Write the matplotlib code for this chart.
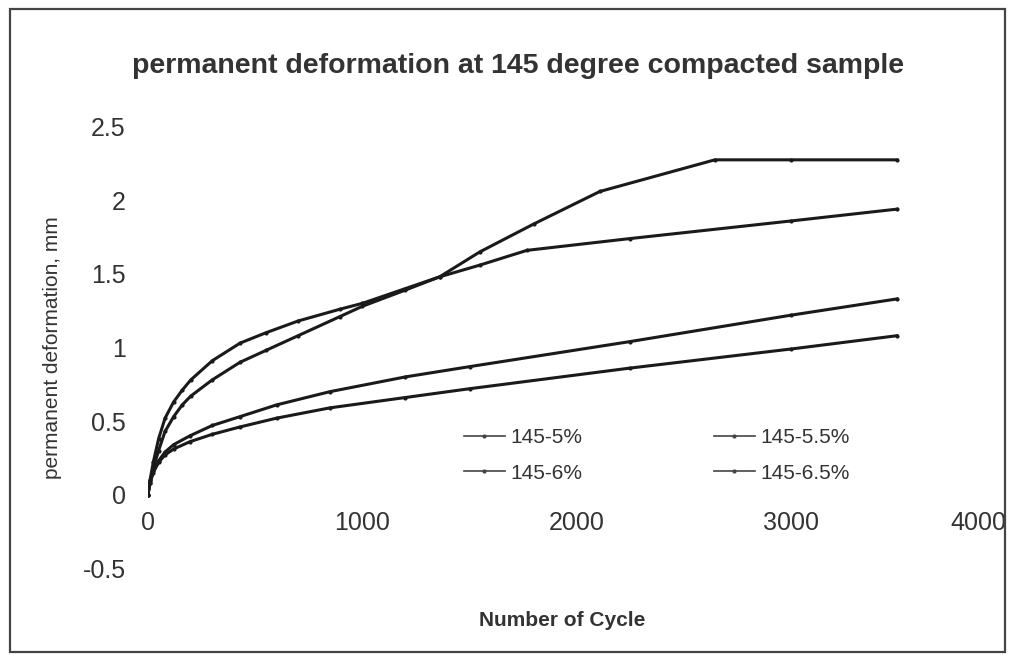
import matplotlib.pyplot as plt
from matplotlib.patches import Rectangle

plt.rcParams['font.family'] = ['Liberation Sans', 'DejaVu Sans']

# permanent deformation (mm) vs number of load cycles, 145 degree compaction
x_5 = [0, 10, 25, 50, 80, 120, 160, 200, 300, 430, 550, 700, 895, 1000, 1200, 1360,
       1548, 1800, 2107, 2643, 3000, 3492]
y_5 = [0, 0.09, 0.18, 0.30, 0.43, 0.53, 0.61, 0.67, 0.78, 0.90, 0.98, 1.08, 1.21, 1.28,
       1.39, 1.48, 1.65, 1.84, 2.06, 2.275, 2.275, 2.275]

x_55 = [0, 10, 25, 50, 80, 120, 160, 200, 300, 430, 550, 700, 895, 1000, 1200, 1360,
        1548, 1767, 2247, 3000, 3492]
y_55 = [0, 0.10, 0.22, 0.38, 0.52, 0.63, 0.71, 0.78, 0.91, 1.03, 1.10, 1.18, 1.26, 1.30,
        1.40, 1.48, 1.56, 1.66, 1.74, 1.86, 1.94]

x_6 = [0, 10, 25, 50, 80, 120, 196, 300, 429, 600, 849, 1200, 1500, 2247, 3000, 3492]
y_6 = [0, 0.08, 0.16, 0.23, 0.29, 0.34, 0.40, 0.47, 0.53, 0.61, 0.70, 0.80, 0.87, 1.04,
       1.22, 1.33]

x_65 = [0, 10, 25, 50, 80, 120, 196, 300, 429, 600, 849, 1200, 1500, 2247, 3000, 3492]
y_65 = [0, 0.08, 0.15, 0.22, 0.27, 0.31, 0.36, 0.41, 0.46, 0.52, 0.59, 0.66, 0.72, 0.86,
        0.99, 1.08]

labels = ['145-5%', '145-5.5%', '145-6%', '145-6.5%']

fig = plt.figure(figsize=(10.13, 6.6), dpi=100)
ax = fig.add_axes([0.146, 0.139, 0.847, 0.669])

series = [(x_5, y_5), (x_55, y_55), (x_6, y_6), (x_65, y_65)]
handles = []
for (xs, ys), lab in zip(series, labels):
    h, = ax.plot(xs, ys, color='#1a1a1a', linewidth=2.2, marker='.', markersize=4, label=lab)
    handles.append(h)

ax.set_xlim(0, 4000)
ax.set_ylim(-0.5, 2.5)
ax.set_xticks([0, 1000, 2000, 3000, 4000])
ax.set_yticks([-0.5, 0, 0.5, 1, 1.5, 2, 2.5])
ax.set_yticklabels(['-0.5', '0', '0.5', '1', '1.5', '2', '2.5'])

for s in ax.spines.values():
    s.set_visible(False)
ax.spines['bottom'].set_position(('data', 0))
ax.tick_params(axis='both', length=0, labelsize=18, colors='#333333')
ax.tick_params(axis='x', pad=12)
ax.tick_params(axis='y', pad=16)
for t in ax.get_xticklabels():
    if t.get_text() == '4000':
        t.set_horizontalalignment('right')

ax.set_ylabel('permanent deformation, mm', fontsize=15, color='#333333')
ax.yaxis.set_label_coords(-0.1, 0.5)
fig.text(0.555, 0.052, 'Number of Cycle', fontsize=15, fontweight='bold', color='#333333', ha='center')
fig.text(0.511, 0.89, 'permanent deformation at 145 degree compacted sample',
         fontsize=20.5, fontweight='bold', color='#333333', ha='center')

# legend laid out row-wise like the spreadsheet original
order = [0, 2, 1, 3]
leg = ax.legend([handles[i] for i in order], [labels[i] for i in order], ncol=2, frameon=False,
                loc='upper left', bbox_to_anchor=(0.346, 0.36), fontsize=15,
                handlelength=2.0, handletextpad=0.25, columnspacing=6.3, labelspacing=0.8,
                labelcolor='#333333')
for lh in leg.legend_handles:
    lh.set_linewidth(1.2)
    lh.set_color('#444444')

fig.patches.append(Rectangle((0.010, 0.012), 0.982, 0.974, transform=fig.transFigure,
                             fill=False, edgecolor='#444444', linewidth=1.6))

fig.savefig('out.png', dpi=100)
